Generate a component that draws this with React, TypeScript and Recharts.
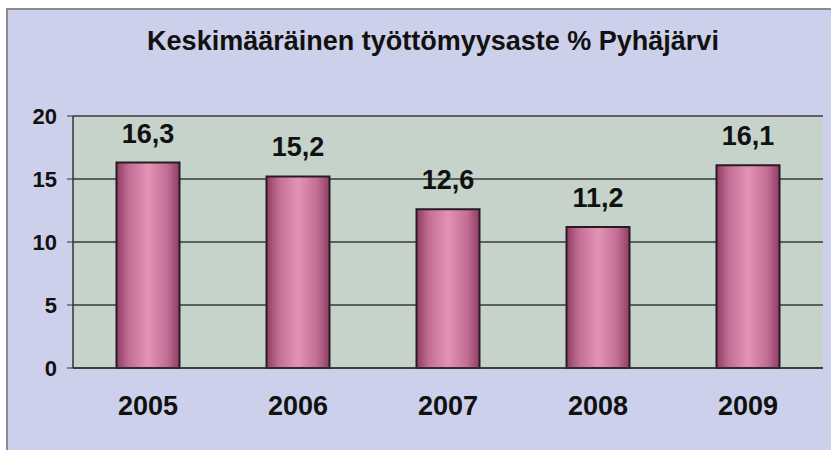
import React from 'react'
import { Bar, BarChart, CartesianGrid, LabelList, XAxis, YAxis } from 'recharts'

// ─── Data ───────────────────────────────────────────────────────────────────────
const years = ['2005', '2006', '2007', '2008', '2009']
const rates = [16.3, 15.2, 12.6, 11.2, 16.1]
const yTicks = [0, 5, 10, 15, 20]

const data = years.map((year, i) => ({ year, rate: rates[i] }))

const FONT = '"Liberation Sans", Arial, sans-serif'
const fmt = (v: any) => String(v).replace('.', ',')

export default function App() {
  return (
    <div style={{ position: 'absolute', left: 0, top: 0, width: 831, height: 450, background: '#fff', fontFamily: FONT, overflow: 'hidden' }}>
      {/* outer frame */}
      <div
        style={{
          position: 'absolute',
          left: 6,
          top: 8,
          width: 830,
          height: 445,
          background: '#cdd0ea',
          borderLeft: '2px solid #8a8a92',
          borderTop: '2px solid #8a8a92',
        }}
      />
      <div
        style={{
          position: 'absolute',
          left: 0,
          top: 26,
          width: 866,
          textAlign: 'center',
          fontSize: 27,
          fontWeight: 700,
          color: '#111',
          whiteSpace: 'nowrap',
        }}
      >
        Keskimääräinen työttömyysaste % Pyhäjärvi
      </div>
      <div style={{ position: 'absolute', left: 0, top: 0 }}>
        <BarChart
          width={831}
          height={450}
          data={data}
          margin={{ top: 116, right: 8, bottom: 52, left: 20 }}
          barCategoryGap="29%"
        >
          <defs>
            <linearGradient id="cyl" x1="0" y1="0" x2="1" y2="0">
              <stop offset="0%" stopColor="#8e3e66" />
              <stop offset="20%" stopColor="#c46e96" />
              <stop offset="50%" stopColor="#e394b5" />
              <stop offset="80%" stopColor="#c46e96" />
              <stop offset="100%" stopColor="#8e3e66" />
            </linearGradient>
          </defs>
          <CartesianGrid vertical={false} fill="#c6d3cb" stroke="#3a3a3a" strokeWidth={1.5} />
          <XAxis
            dataKey="year"
            axisLine={{ stroke: '#333', strokeWidth: 1.5 }}
            tickLine={false}
            tickMargin={22}
            tick={{ fontSize: 27, fontWeight: 700, fill: '#111', fontFamily: FONT }}
          />
          <YAxis
            width={53}
            domain={[0, 20]}
            ticks={yTicks}
            axisLine={{ stroke: '#333', strokeWidth: 1.5 }}
            tickLine={{ stroke: '#333' }}
            tickSize={6}
            tickMargin={10}
            tick={{ fontSize: 22, fontWeight: 700, fill: '#111', fontFamily: FONT }}
          />
          <Bar dataKey="rate" fill="url(#cyl)" stroke="#2a1a22" strokeWidth={2} isAnimationActive={false}>
            <LabelList
              dataKey="rate"
              position="top"
              offset={20}
              formatter={fmt}
              style={{ fontSize: 27, fontWeight: 700, fill: '#111', fontFamily: FONT }}
            />
          </Bar>
        </BarChart>
      </div>
    </div>
  )
}
